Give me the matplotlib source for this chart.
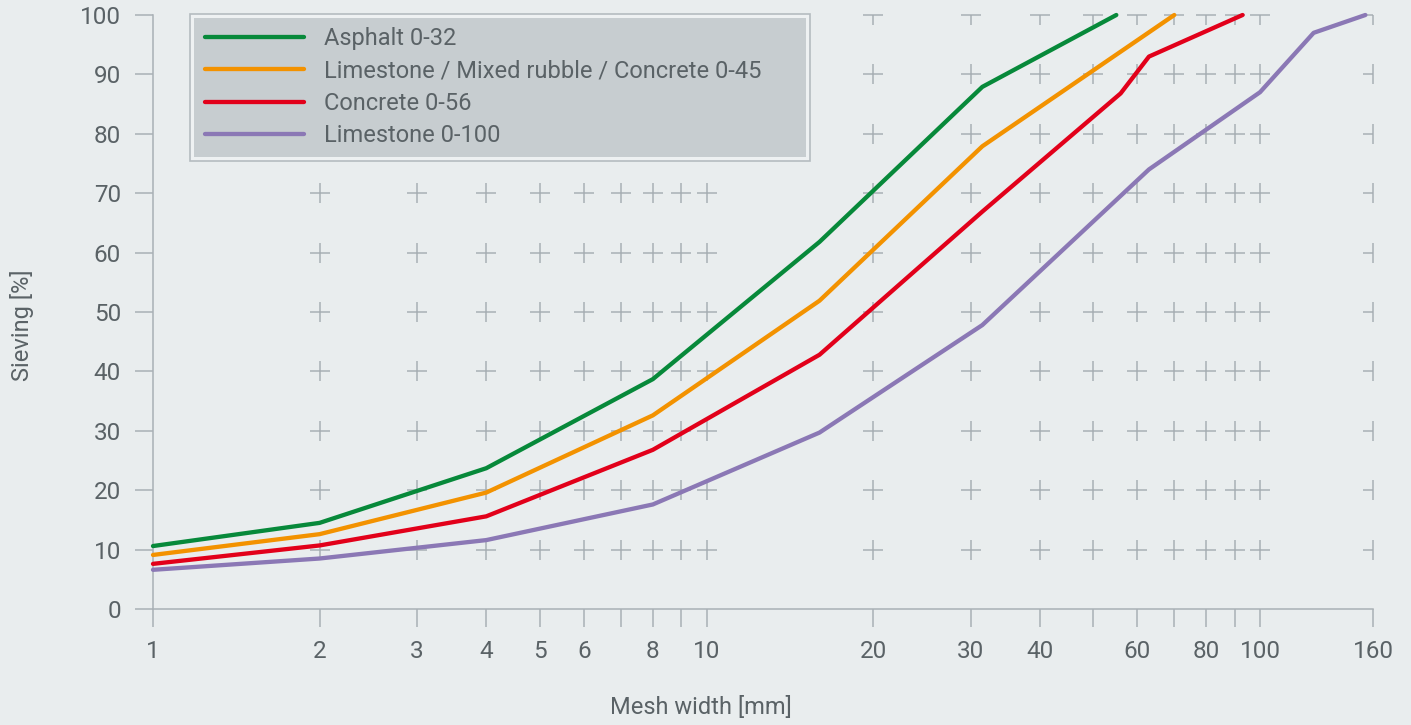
import numpy as np
import matplotlib
matplotlib.use('Agg')
import matplotlib.pyplot as plt
from matplotlib.path import Path
from matplotlib.patches import Rectangle

plt.rcParams['font.family'] = ['Roboto', 'DejaVu Sans']

# data
asphalt_x = [1, 2, 4, 8, 16, 31.5, 55]
asphalt_y = [10.6, 14.5, 23.7, 38.7, 61.8, 87.9, 100]
mixed_x = [1, 2, 4, 8, 16, 31.5, 70]
mixed_y = [9.1, 12.6, 19.6, 32.6, 51.9, 77.9, 100]
concrete_x = [1, 2, 4, 8, 16, 31.5, 56, 63, 93]
concrete_y = [7.6, 10.7, 15.6, 26.8, 42.8, 66.9, 86.8, 93.0, 100]
lime_x = [1, 2, 4, 8, 16, 31.5, 63, 100, 125, 155]
lime_y = [6.6, 8.5, 11.6, 17.6, 29.7, 47.8, 74.0, 87.0, 97.0, 100]

series = [
    ('Asphalt 0-32', asphalt_x, asphalt_y, '#07893a'),
    ('Limestone / Mixed rubble / Concrete 0-45', mixed_x, mixed_y, '#f39200'),
    ('Concrete 0-56', concrete_x, concrete_y, '#e2001a'),
    ('Limestone 0-100', lime_x, lime_y, '#8b78b5'),
]

x_ticks = [1, 2, 3, 4, 5, 6, 7, 8, 9, 10, 20, 30, 40, 50, 60, 70, 80, 90, 100, 160]
x_labels = ['1', '2', '3', '4', '5', '6', '', '8', '', '10', '20', '30', '40', '',
            '60', '', '80', '', '100', '160']
y_ticks = list(range(0, 101, 10))

bg = '#e9edee'
grid_col = '#a9b0b5'
text_col = '#5a6266'

W, H = 1411, 725
fig = plt.figure(figsize=(W / 100, H / 100), dpi=100, facecolor=bg)
ax = fig.add_axes([153 / W, 1 - 609 / H, 1220 / W, 594 / H])
ax.set_facecolor(bg)
ax.set_xscale('log')
ax.set_xlim(1, 160)
ax.set_ylim(0, 100)

# grid as little crosses
M, L = Path.MOVETO, Path.LINETO
plus = Path([(-1, 0), (1, 0), (0, -1), (0, 1)], [M, L, M, L])
tee = Path([(-1, 0), (1, 0), (0, 0), (0, -1)], [M, L, M, L])
half = Path([(-1, 0), (0, 0), (0, -1), (0, 1)], [M, L, M, L])
corner = Path([(-1, 0), (0, 0), (0, 0), (0, -1)], [M, L, M, L])
gx = x_ticks[1:]
for xv in gx:
    for yv in y_ticks[1:]:
        if xv == 160:
            mk = corner if yv == 100 else half
        else:
            mk = tee if yv == 100 else plus
        ax.plot([xv], [yv], marker=mk, ms=14.5, mfc='none', mec=grid_col,
                mew=1.1, ls='none', zorder=1, clip_on=False)

for label, xs, ys, col in series:
    ax.plot(xs, ys, color=col, lw=3.1, label=label, zorder=4, clip_on=False,
            solid_capstyle='round', solid_joinstyle='round')

ax.set_xticks(x_ticks)
ax.set_xticklabels(x_labels)
ax.minorticks_off()
ax.set_yticks(y_ticks)
for s in ['top', 'right']:
    ax.spines[s].set_visible(False)
for s in ['left', 'bottom']:
    ax.spines[s].set_color(grid_col)
    ax.spines[s].set_linewidth(1.1)
ax.tick_params(axis='both', length=13, width=1.1, color=grid_col,
               labelcolor=text_col, labelsize=17.5)
ax.tick_params(axis='x', pad=9)
ax.tick_params(axis='y', pad=10)

fig.text(701 / W, 1 - 708 / H, 'Mesh width [mm]', ha='center', va='center',
         color=text_col, fontsize=17)
fig.text(22 / W, 1 - 325 / H, 'Sieving [%]', ha='center', va='center',
         rotation=90, color=text_col, fontsize=17)

# legend box
outer = Rectangle((190 / W, 1 - 161 / H), 620 / W, 147 / H, transform=fig.transFigure,
                  facecolor='#eef1f2', edgecolor='#b5bcc0', lw=1.2, zorder=3, clip_on=False)
inner = Rectangle((194 / W, 1 - 157 / H), 612 / W, 139 / H, transform=fig.transFigure,
                  facecolor='#c7cdd0', edgecolor='none', zorder=3, clip_on=False)
ax.add_patch(outer)
ax.add_patch(inner)

leg = ax.legend(loc='upper left', bbox_to_anchor=(205 / W, 1 - 27 / H),
                bbox_transform=fig.transFigure, frameon=False, fontsize=17,
                handlelength=4.2, handletextpad=0.85, labelspacing=0.4,
                borderpad=0, borderaxespad=0)
for t in leg.get_texts():
    t.set_color(text_col)
leg.set_zorder(5)

fig.savefig('out.png', dpi=100, facecolor=bg)
